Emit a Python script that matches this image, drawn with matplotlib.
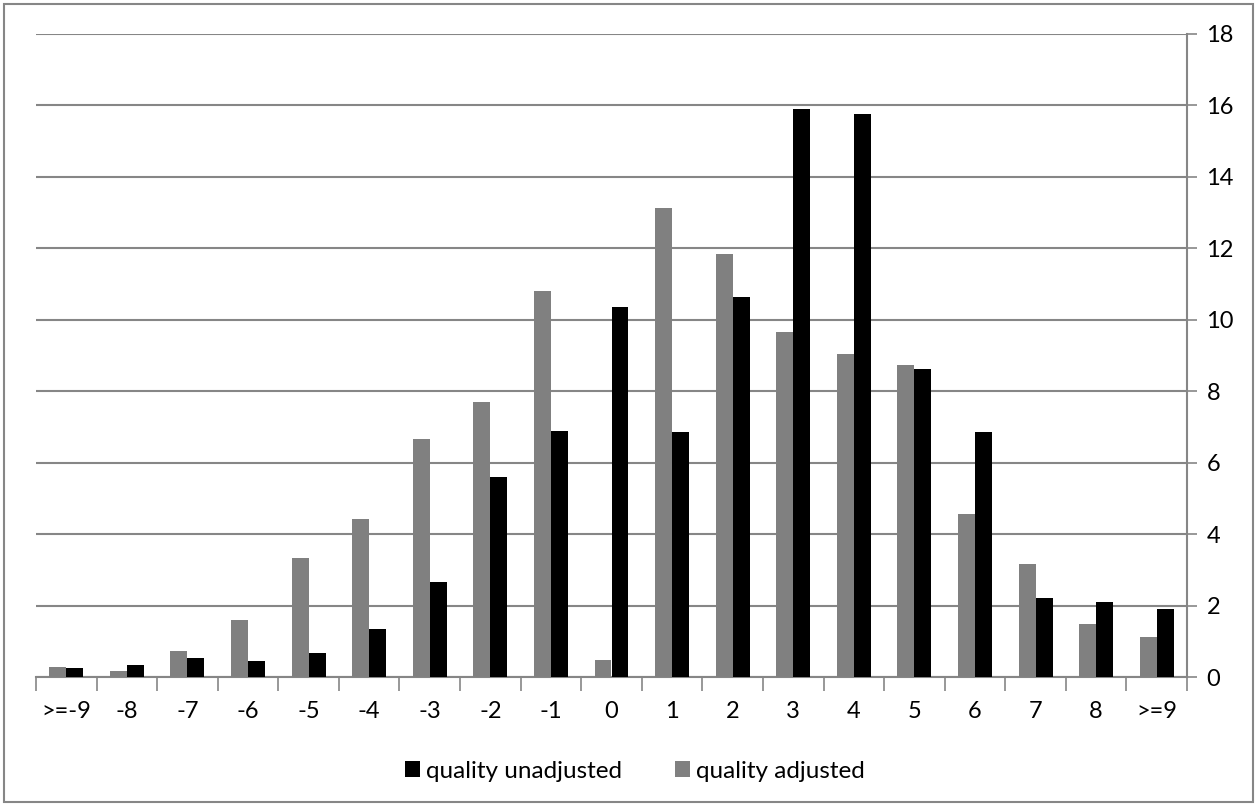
import matplotlib.pyplot as plt
from matplotlib.patches import Rectangle
import numpy as np

categories = [">=-9", "-8", "-7", "-6", "-5", "-4", "-3", "-2", "-1", "0",
              "1", "2", "3", "4", "5", "6", "7", "8", ">=9"]
adjusted = [0.27, 0.17, 0.73, 1.60, 3.33, 4.42, 6.67, 7.70, 10.80, 0.47,
            13.13, 11.85, 9.67, 9.05, 8.73, 4.57, 3.15, 1.47, 1.13]
unadjusted = [0.25, 0.33, 0.52, 0.45, 0.68, 1.35, 2.67, 5.60, 6.88, 10.37,
              6.85, 10.63, 15.90, 15.77, 8.62, 6.87, 2.20, 2.10, 1.90]
yticks = [0, 2, 4, 6, 8, 10, 12, 14, 16, 18]

AXIS = "#868686"
GRAY = "#808080"

plt.rcParams["font.family"] = ["Lato", "DejaVu Sans"]

fig = plt.figure(figsize=(12.57, 8.06), dpi=100)
ax = fig.add_axes([36 / 1257, 1 - 677 / 806, (1187 - 36) / 1257, (677 - 34) / 806])

x = np.arange(len(categories))
w = 0.28
ax.bar(x - w / 2, adjusted, w, color=GRAY, label="quality adjusted", zorder=3)
ax.bar(x + w / 2, unadjusted, w, color="black", label="quality unadjusted", zorder=3)

ax.set_xlim(-0.5, len(categories) - 0.5)
ax.set_ylim(0, 18)
ax.set_yticks(yticks)
ax.yaxis.tick_right()
ax.yaxis.grid(True, color=AXIS, lw=1.5, zorder=0)
ax.tick_params(axis="y", length=7, width=1.2, color=AXIS, labelsize=17, pad=7)

ax.set_xticks(x)
ax.set_xticklabels(categories)
ax.set_xticks(np.arange(len(categories) + 1) - 0.5, minor=True)
ax.tick_params(axis="x", which="major", length=0, labelsize=17, pad=17)
ax.tick_params(axis="x", which="minor", length=10, width=1.2, color=AXIS)

for side in ("top", "left"):
    ax.spines[side].set_visible(False)
for side in ("bottom", "right"):
    ax.spines[side].set_color(AXIS)
    ax.spines[side].set_linewidth(1.5)

handles, labels = ax.get_legend_handles_labels()
leg = fig.legend(handles[::-1], labels[::-1], loc="center", bbox_to_anchor=(0.505, 1 - 771 / 806),
                 ncol=2, frameon=False, fontsize=17.5, handlelength=0.6, handleheight=0.6,
                 handletextpad=0.25, columnspacing=2.2)

fig.patches.append(Rectangle((4 / 1257, 4 / 806), 1 - 8 / 1257, 1 - 8 / 806,
                             transform=fig.transFigure, fill=False,
                             edgecolor=AXIS, lw=1.5))

fig.savefig("out.png", dpi=100)
